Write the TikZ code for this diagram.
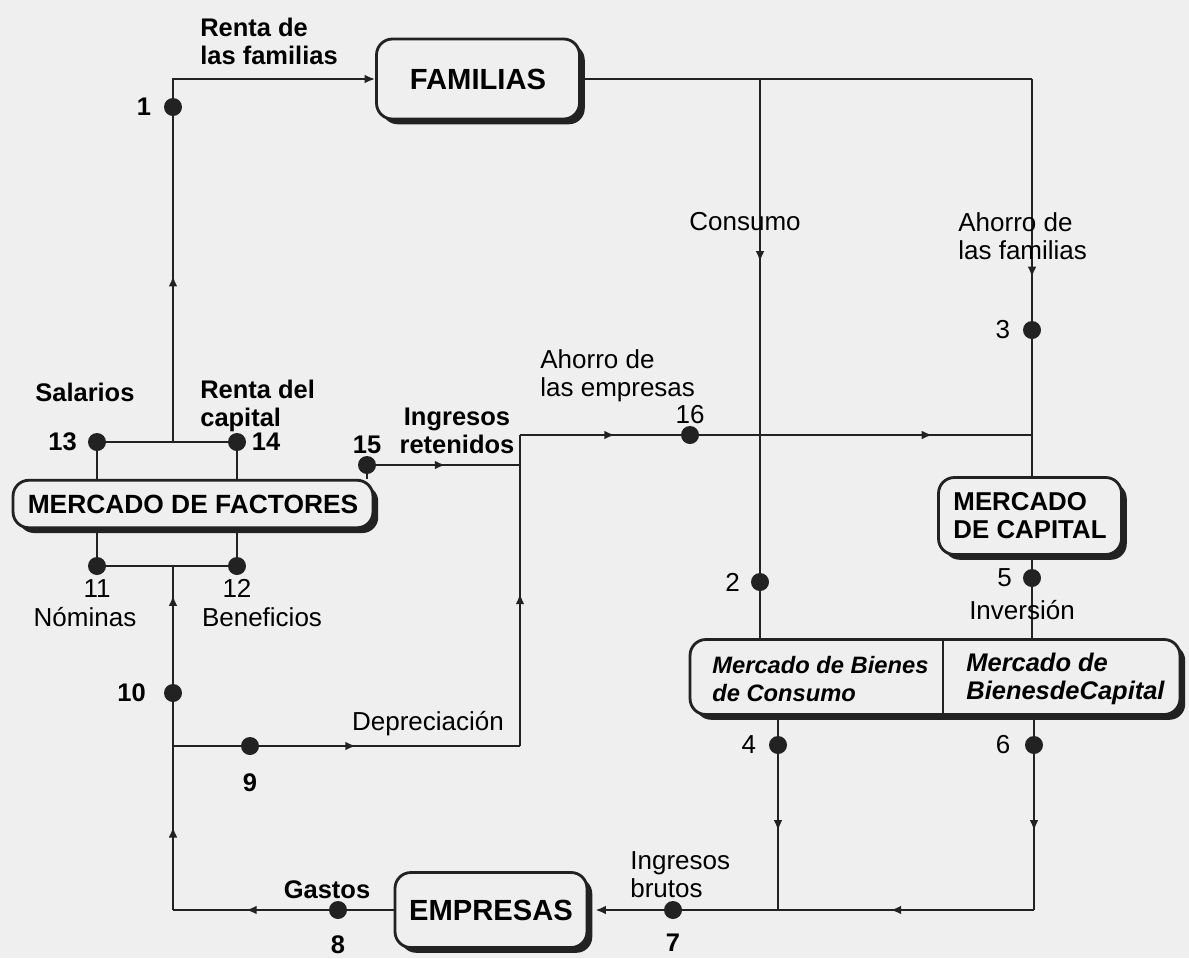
\documentclass[tikz,border=0pt]{standalone}
\usepackage{fontspec}
\setmainfont{Liberation Sans}
\usetikzlibrary{positioning}
\usetikzlibrary{shadows}
\usetikzlibrary{arrows.meta}
\usetikzlibrary{decorations.markings}
\definecolor{bg}{RGB}{239,239,239}
\definecolor{ln}{RGB}{34,34,34}

\begin{document}
\begin{tikzpicture} [
    x=0.02cm, y=-0.02cm,
    box/.style={
        draw=ln, fill=bg, line width=1.6pt,
        rounded corners=9pt, align=center,
        font=\fontsize{16.6}{19}\selectfont\bfseries,
        drop shadow={shadow xshift=3pt,shadow yshift=-3pt,fill=ln,opacity=1}
    },
    dot/.style={circle, fill=ln, inner sep=0pt, minimum size=0.36cm},
    lbl/.style={font=\fontsize{14.8}{16}\selectfont, inner sep=0pt},
    blbl/.style={lbl, font=\fontsize{14.5}{16}\selectfont\bfseries},
    num/.style={lbl, inner sep=1pt},
    bnum/.style={blbl, inner sep=1pt},
    fl/.style={draw=ln, line width=1.1pt},
    ar/.style={postaction={decorate,decoration={markings,
        mark=at position #1 with {\arrow{Latex[length=6pt,width=5pt]}}}}}
]

\useasboundingbox (0,0) rectangle (1189,958);
\fill [bg] (0,0) rectangle (1189,958);

\node [box,minimum width=4.06cm,minimum height=1.6cm] (fam) at (478,79) {FAMILIAS};
\node [box,minimum width=7.2cm,minimum height=0.95cm,
       font=\fontsize{15}{17}\selectfont\bfseries] (fac) at (193,504) {MERCADO DE FACTORES};
\node [box,minimum width=3.66cm,minimum height=1.54cm,align=left,
       font=\fontsize{14.7}{16}\selectfont\bfseries] (cap) at (1030,516) {MERCADO\\DE CAPITAL};
\node [box,minimum width=9.8cm,minimum height=1.5cm] (bie) at (935,677) {};
\node [box,minimum width=3.84cm,minimum height=1.5cm] (emp) at (491,910) {EMPRESAS};

\node [anchor=west,align=left,inner sep=0pt,
       font=\fontsize{13.5}{16}\selectfont\bfseries\itshape] (bieC) at (712,679) {Mercado de Bienes\\de Consumo};
\node [anchor=west,align=left,inner sep=0pt,
       font=\fontsize{14.5}{16}\selectfont\bfseries\itshape] (bieK) at (966,679) {Mercado de\\BienesdeCapital};
\coordinate (dv) at (943,677);
\draw [fl] (dv |- bie.north) -- (dv |- bie.south);

\node [dot] (d1)  at (173,107) {};
\node [dot] (d2)  at (760,582) {};
\node [dot] (d3)  at (1032,330) {};
\node [dot] (d4)  at (778,745) {};
\node [dot] (d5)  at (1032,578) {};
\node [dot] (d6)  at (1034,745) {};
\node [dot] (d7)  at (673,910) {};
\node [dot] (d8)  at (338,910) {};
\node [dot] (d9)  at (250,746) {};
\node [dot] (d10) at (173,693) {};
\node [dot] (d11) at (97,566) {};
\node [dot] (d12) at (237,566) {};
\node [dot] (d13) at (97,442) {};
\node [dot] (d14) at (237,442) {};
\node [dot] (d15) at (367,465) {};
\node [dot] (d16) at (690,435) {};

\coordinate (j1)  at (173,79);
\coordinate (j2)  at (173,442);
\coordinate (j3)  at (173,566);
\coordinate (j4)  at (173,746);
\coordinate (j5)  at (173,910);
\coordinate (j6)  at (760,79);
\coordinate (j7)  at (1032,79);
\coordinate (j8)  at (520,465);
\coordinate (j9)  at (520,435);
\coordinate (j10) at (520,746);
\coordinate (j11) at (1032,435);
\coordinate (j12) at (778,910);
\coordinate (j13) at (1034,910);

% factor market and families
\draw [fl,ar=0.51] (j2) -- (d1);
\draw [fl,-{Latex[length=6pt,width=5pt]}] (d1) -- (j1) -- (fam.west);
\draw [fl] (d13) -- (d14);
\draw [fl] (d13) -- (d13 |- fac.north);
\draw [fl] (d14) -- (d14 |- fac.north);
\draw [fl] (d11) -- (d12);
\draw [fl] (d11) -- (d11 |- fac.south);
\draw [fl] (d12) -- (d12 |- fac.south);

% savings of firms
\draw [fl] (d15) -- (d15 |- fac.north);
\draw [fl,ar=0.48] (d15) -- (j8);
\draw [fl] (j4) -- (d9);
\draw [fl,ar=0.37] (d9) -- (j10);
\draw [fl,ar=0.49] (j10) -- (j9);
\draw [fl,ar=0.59] (j9) -- (d16);
\draw [fl,ar=0.70] (d16) -- (j11);

% firms back to factor market
\draw [fl] (emp.west) -- (d8);
\draw [fl,ar=0.53] (d8) -- (j5);
\draw [fl,ar=0.40] (j5) -- (d10);
\draw [fl,ar=0.75] (d10) -- (j3);

% consumption and household savings
\draw [fl] (fam.east) -- (j7);
\draw [fl,ar=0.37] (j6) -- (d2);
\draw [fl] (d2) -- (d2 |- bie.north);
\draw [fl,ar=0.82] (j7) -- (d3);
\draw [fl] (d3) -- (d3 |- cap.north);
\draw [fl] (d5 |- cap.south) -- (d5) -- (d5 |- bie.north);

% gross revenue
\draw [fl] (d4 |- bie.south) -- (d4);
\draw [fl,ar=0.49] (d4) -- (j12);
\draw [fl] (d6 |- bie.south) -- (d6);
\draw [fl,ar=0.49] (d6) -- (j13);
\draw [fl,ar=0.56] (j13) -- (j12);
\draw [fl] (j12) -- (d7);
\draw [fl,-{Latex[length=6pt,width=5pt]},shorten >=4pt] (d7) -- (emp.east);

\node [blbl,anchor=west,align=left] (tRenta) at (200,41) {Renta de\\las familias};
\node [blbl,anchor=west] (tSal) at (35,392) {Salarios};
\node [blbl,anchor=west,align=left] (tRcap) at (200,406) {Renta del\\capital};
\node [blbl,align=center] (tIret) at (457,431) {Ingresos\\retenidos};
\node [lbl,anchor=west,align=left] (tAemp) at (540,376) {Ahorro de\\las empresas};
\node [lbl] (tCons) at (745,222) {Consumo};
\node [lbl,anchor=west,align=left] (tAfam) at (958,236) {Ahorro de\\las familias};
\node [lbl] (tInv) at (1022,610) {Inversión};
\node [lbl] (tNom) at (85,617) {Nóminas};
\node [lbl] (tBen) at (262,617) {Beneficios};
\node [lbl] (tDep) at (428,724) {Depreciación};
\node [blbl] (tGas) at (327,890) {Gastos};
\node [lbl,anchor=west,align=left] (tIbr) at (630,875) {Ingresos\\brutos};

\node [bnum,left=6pt of d1]   (n1)  {1};
\node [num,left=5pt of d2]    (n2)  {2};
\node [num,left=6pt of d3]    (n3)  {3};
\node [num,left=6pt of d4]    (n4)  {4};
\node [num,left=5pt of d5]    (n5)  {5};
\node [num,left=7pt of d6]    (n6)  {6};
\node [bnum,below=7pt of d7]  (n7)  {7};
\node [bnum,below=8pt of d8]  (n8)  {8};
\node [bnum,below=9pt of d9]  (n9)  {9};
\node [bnum,left=9pt of d10]  (n10) {10};
\node [num,below=1pt of d11]  (n11) {11};
\node [num,below=1pt of d12]  (n12) {12};
\node [bnum,left=5pt of d13]  (n13) {13};
\node [bnum,right=2pt of d14] (n14) {14};
\node [bnum,above=0pt of d15] (n15) {15};
\node [num,above=0pt of d16]  (n16) {16};

\end{tikzpicture}
\end{document}
